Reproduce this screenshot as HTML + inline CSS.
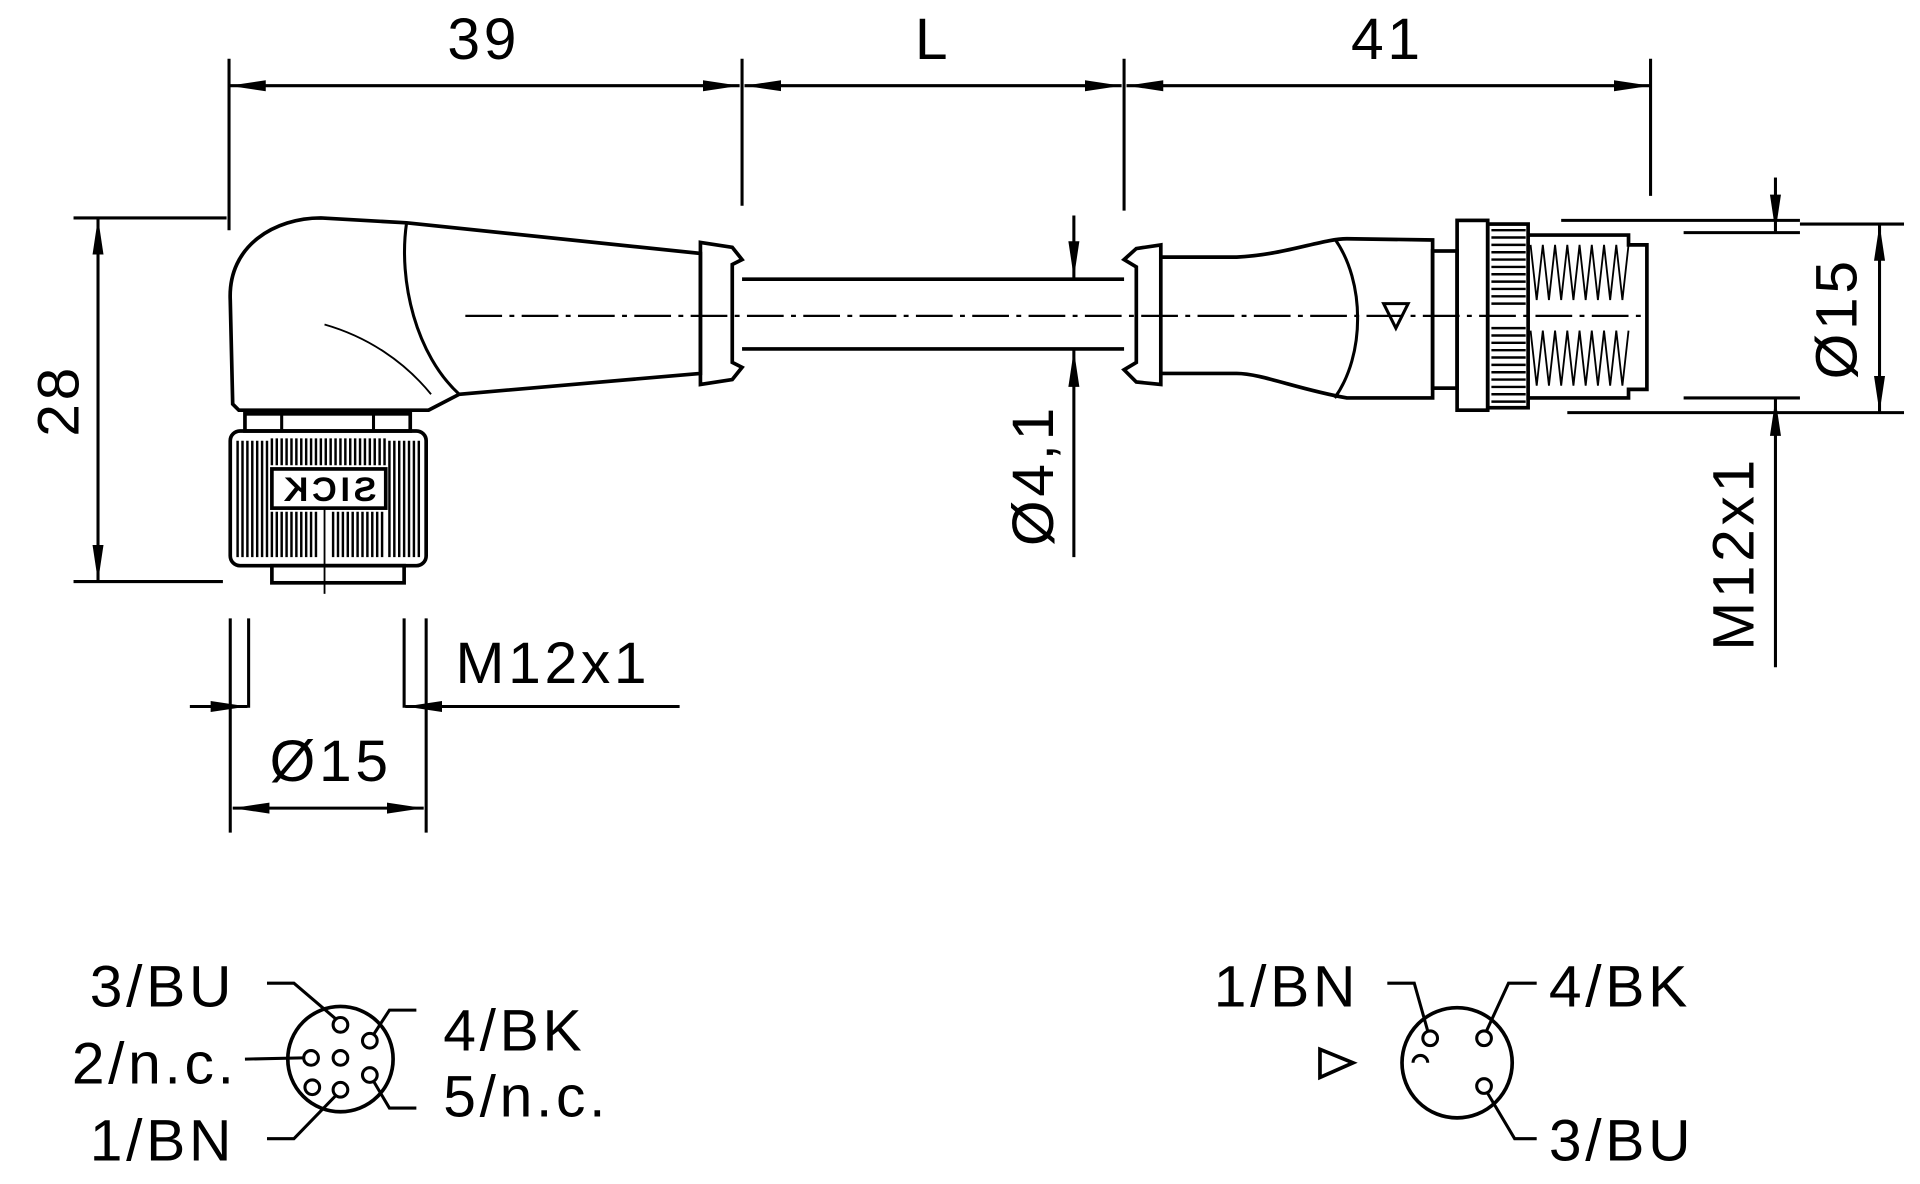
<!DOCTYPE html>
<html><head><meta charset="utf-8"><style>html,body{margin:0;padding:0;background:#fff}svg{display:block}text{font-family:"Liberation Sans",sans-serif;fill:#000;letter-spacing:3px}</style></head>
<body>
<svg width="1920" height="1184" viewBox="0 0 1568 967" xmlns="http://www.w3.org/2000/svg">
<defs>
<marker id="a" viewBox="0 0 30 10" refX="30" refY="5" markerWidth="30" markerHeight="10" orient="auto-start-reverse" markerUnits="userSpaceOnUse"><path d="M0,0.5 L30,5 L0,9.5 z" fill="#000"/></marker>
</defs>
<g stroke="#000" stroke-width="2.5" fill="none">
<line x1="187" y1="48" x2="187" y2="188"/>
<line x1="606" y1="48" x2="606" y2="168"/>
<line x1="918" y1="48" x2="918" y2="172"/>
<line x1="1348" y1="48" x2="1348" y2="160"/>
<line x1="187" y1="70" x2="604" y2="70" marker-start="url(#a)" marker-end="url(#a)"/>
<line x1="608" y1="70" x2="916" y2="70" marker-start="url(#a)" marker-end="url(#a)"/>
<line x1="920" y1="70" x2="1348" y2="70" marker-start="url(#a)" marker-end="url(#a)"/>
<line x1="60" y1="178" x2="185" y2="178"/>
<line x1="60" y1="475" x2="182" y2="475"/>
<line x1="80" y1="178" x2="80" y2="475" marker-start="url(#a)" marker-end="url(#a)"/>
<path d="M190,330 L188,245 C186,200 225,178 262,178 L332,182 L572,207 L572,305 L375,322 L350,335 L195,335 Z" stroke-width="3"/>
<path d="M332,182 C325,230 340,290 375,322"/>
<path d="M265,265 C300,275 330,295 352,322" stroke-width="1.5"/>
<path d="M572,198 L598,202 L606,212 L598,216 L598,296 L606,300 L598,310 L572,314 Z" stroke-width="3"/>
<line x1="606" y1="228" x2="918" y2="228" stroke-width="3"/>
<line x1="606" y1="285" x2="918" y2="285" stroke-width="3"/>
<path d="M948,200 L928,203 L918,212 L928,218 L928,296 L918,302 L928,312 L948,314 Z" stroke-width="3"/>
<path d="M948,210 L1010,210 C1050,208 1080,195 1100,195 L1170,196 L1170,325 L1100,325 C1060,318 1030,305 1010,305 L948,305" stroke-width="3"/>
<path d="M1090,195 C1115,230 1115,290 1090,325"/>
<path d="M1130,248 L1150,248 L1140,268 Z"/>
<rect x="1170" y="205" width="20" height="112" stroke-width="3"/>
<rect x="1190" y="180" width="25" height="155" stroke-width="3"/>
<rect x="1215" y="183" width="33" height="150" stroke-width="3"/>
<g stroke-width="2">
<path d="M1218,188H1246M1218,194H1246M1218,200H1246M1218,206H1246M1218,212H1246M1218,218H1246M1218,224H1246M1218,230H1246M1218,236H1246M1218,242H1246M1218,248H1246M1218,268H1246M1218,274H1246M1218,280H1246M1218,286H1246M1218,292H1246M1218,298H1246M1218,304H1246M1218,310H1246M1218,316H1246M1218,322H1246M1218,328H1246"/>
</g>
<path d="M1248,192 L1330,192 L1330,200 L1345,200 L1345,318 L1330,318 L1330,325 L1248,325" stroke-width="3"/>
<path d="M1250,200 l5,45 l5,-45 l5,45 l5,-45 l5,45 l5,-45 l5,45 l5,-45 l5,45 l5,-45 l5,45 l5,-45 l5,45 l5,-45 l5,45 l5,-45 M1250,270 l5,45 l5,-45 l5,45 l5,-45 l5,45 l5,-45 l5,45 l5,-45 l5,45 l5,-45 l5,45 l5,-45 l5,45 l5,-45 l5,45 l5,-45" stroke-width="1.5"/>
<line x1="380" y1="258" x2="1340" y2="258" stroke-width="1.8" stroke-dasharray="30,6,4,6"/>
<line x1="877" y1="176" x2="877" y2="227" marker-end="url(#a)"/>
<line x1="877" y1="455" x2="877" y2="286" marker-end="url(#a)"/>
<line x1="1275" y1="180" x2="1470" y2="180"/>
<line x1="1375" y1="190" x2="1470" y2="190"/>
<line x1="1375" y1="325" x2="1470" y2="325"/>
<line x1="1280" y1="337" x2="1555" y2="337"/>
<line x1="1470" y1="183" x2="1555" y2="183"/>
<line x1="1535" y1="183" x2="1535" y2="337" marker-start="url(#a)" marker-end="url(#a)"/>
<line x1="1450" y1="145" x2="1450" y2="189" marker-end="url(#a)"/>
<line x1="1450" y1="545" x2="1450" y2="326" marker-end="url(#a)"/>
<rect x="200" y="338" width="135" height="14" stroke-width="3"/>
<line x1="230" y1="338" x2="230" y2="352"/><line x1="305" y1="338" x2="305" y2="352"/>
<rect x="188" y="352" width="160" height="110" rx="8" stroke-width="3"/>
<rect x="222" y="462" width="108" height="14" stroke-width="3"/>
<line x1="265" y1="415" x2="265" y2="485" stroke-width="1.5"/>
<g stroke-width="2">
<path d="M194,360V455M198,360V455M202,360V455M206,360V455M210,360V455M214,360V455M218,360V455M318,360V455M322,360V455M326,360V455M330,360V455M334,360V455M338,360V455M342,360V455M222,418V455M226,418V455M230,418V455M234,418V455M238,418V455M242,418V455M246,418V455M250,418V455M254,418V455M258,418V455M272,418V455M276,418V455M280,418V455M284,418V455M288,418V455M292,418V455M296,418V455M300,418V455M304,418V455M308,418V455M312,418V455M222,358V380M226,358V380M230,358V380M234,358V380M238,358V380M242,358V380M246,358V380M250,358V380M254,358V380M258,358V380M262,358V380M266,358V380M270,358V380M274,358V380M278,358V380M282,358V380M286,358V380M290,358V380M294,358V380M298,358V380M302,358V380M306,358V380M310,358V380M314,358V380"/>
</g>
<rect x="222" y="383" width="93" height="32" stroke-width="3" fill="#fff"/>
<line x1="203" y1="505" x2="203" y2="578"/><line x1="330" y1="505" x2="330" y2="578"/>
<line x1="188" y1="505" x2="188" y2="680"/><line x1="348" y1="505" x2="348" y2="680"/>
<line x1="155" y1="577" x2="202" y2="577" marker-end="url(#a)"/>
<line x1="555" y1="577" x2="331" y2="577" marker-end="url(#a)"/>
<line x1="190" y1="660" x2="346" y2="660" marker-start="url(#a)" marker-end="url(#a)"/>
<circle cx="278" cy="865" r="43" stroke-width="3"/>
<circle cx="278" cy="837" r="6"/><circle cx="254" cy="864" r="6"/><circle cx="278" cy="864" r="6"/><circle cx="302" cy="850" r="6"/><circle cx="302" cy="878" r="6"/><circle cx="278" cy="890" r="6"/><circle cx="255" cy="888" r="6"/>
<path d="M218,803 L240,803 L274,832"/>
<path d="M200,865 L247,864"/>
<path d="M218,930 L240,930 L274,895"/>
<path d="M340,825 L318,825 L305,845"/>
<path d="M340,905 L318,905 L305,883"/>
<circle cx="1190" cy="868" r="45" stroke-width="3"/>
<circle cx="1168" cy="848" r="6"/><circle cx="1212" cy="848" r="6"/><circle cx="1212" cy="887" r="6"/>
<path d="M1154,868 a6,6 0 0 1 12,0"/>
<path d="M1133,803 L1155,803 L1166,842"/>
<path d="M1255,803 L1232,803 L1214,842"/>
<path d="M1255,930 L1237,930 L1215,893"/>
<path d="M1078,857 L1105,868 L1078,880 Z" stroke-width="3"/>
</g>
<g font-size="48">
<text x="395" y="48" text-anchor="middle">39</text>
<text x="762" y="48" text-anchor="middle">L</text>
<text x="1133" y="48" text-anchor="middle">41</text>
<text transform="translate(64,327) rotate(-90)" text-anchor="middle">28</text>
<text transform="translate(860,388) rotate(-90)" text-anchor="middle">Ø4,1</text>
<text transform="translate(1516,260) rotate(-90)" text-anchor="middle">Ø15</text>
<text transform="translate(1432,452) rotate(-90)" text-anchor="middle">M12x1</text>
<text x="372" y="558">M12x1</text>
<text x="270" y="638" text-anchor="middle">Ø15</text>
<text x="192" y="822" text-anchor="end">3/BU</text>
<text x="194" y="885" text-anchor="end">2/n.c.</text>
<text x="192" y="948" text-anchor="end">1/BN</text>
<text x="362" y="858">4/BK</text>
<text x="362" y="912">5/n.c.</text>
<text x="1110" y="822" text-anchor="end">1/BN</text>
<text x="1265" y="822">4/BK</text>
<text x="1265" y="948">3/BU</text>
</g>
<text transform="translate(268,409) scale(-1,1)" font-size="28" font-weight="bold" text-anchor="middle">SICK</text>
</svg>
</body></html>
